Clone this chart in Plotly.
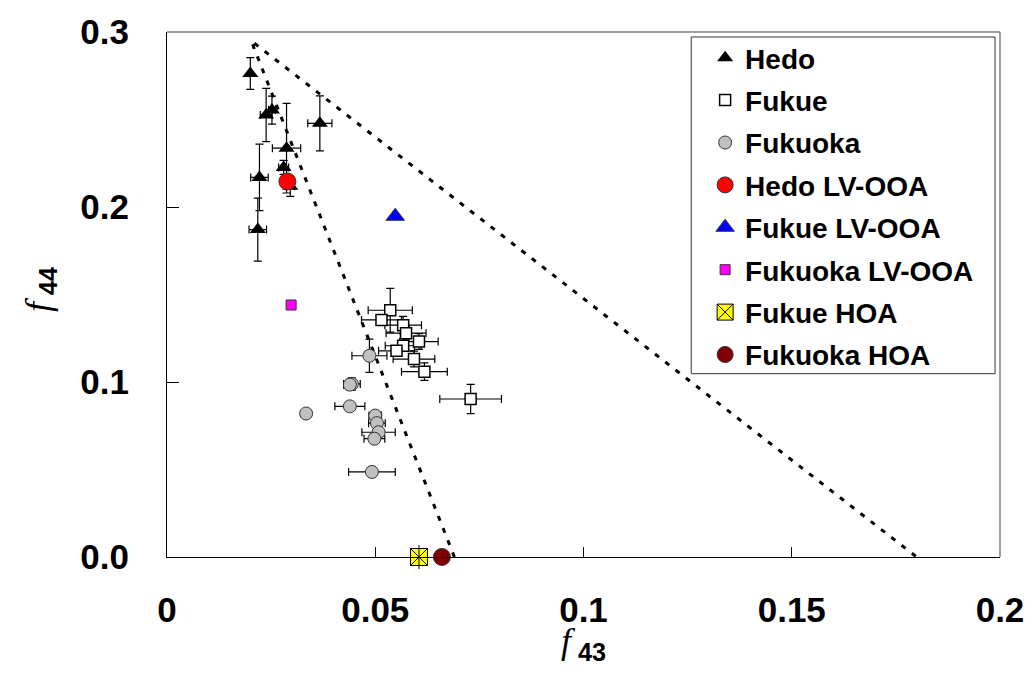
import plotly.graph_objects as go

# ---------------- data ----------------
hedo_x = [0.0200, 0.0238, 0.0252, 0.0367, 0.0287, 0.0280, 0.0296, 0.0222, 0.0218]
hedo_y = [0.2763, 0.2526, 0.2554, 0.2478, 0.2336, 0.2226, 0.2118, 0.2169, 0.1871]
hedo_ex = [0.0000, 0.0014, 0.0008, 0.0029, 0.0034, 0.0012, 0.0010, 0.0021, 0.0021]
hedo_ey = [0.0091, 0.0152, 0.0080, 0.0157, 0.0256, 0.0040, 0.0057, 0.0190, 0.0180]

fukue_x = [0.0536, 0.0515, 0.0567, 0.0574, 0.0605, 0.0567, 0.0551, 0.0593, 0.0618, 0.0729]
fukue_y = [0.1410, 0.1355, 0.1325, 0.1279, 0.1231, 0.1207, 0.1178, 0.1131, 0.1059, 0.0903]
fukue_ex = [0.0053, 0.0048, 0.0044, 0.0048, 0.0046, 0.0043, 0.0043, 0.0050, 0.0055, 0.0074]
fukue_ey = [0.0125, 0.0030, 0.0050, 0.0040, 0.0045, 0.0030, 0.0030, 0.0045, 0.0050, 0.0084]

fukuoka_x = [0.0486, 0.0444, 0.0439, 0.0439, 0.0500, 0.0504, 0.0508, 0.0498, 0.0492, 0.0334]
fukuoka_y = [0.1150, 0.0989, 0.0985, 0.0861, 0.0808, 0.0765, 0.0713, 0.0676, 0.0486, 0.0820]
fukuoka_ex = [0.0042, 0.0020, 0.0015, 0.0036, 0.0015, 0.0020, 0.0040, 0.0025, 0.0056, 0.0000]
fukuoka_ey = [0.0095, 0.0035, 0.0030, 0.0020, 0.0020, 0.0020, 0.0025, 0.0020, 0.0030, 0.0000]

hedo_lvooa = (0.0289, 0.2146)
fukue_lvooa = (0.0548, 0.1947)
fukuoka_lvooa = (0.0298, 0.1440)
fukue_hoa = (0.0605, 0.0)
fukuoka_hoa = (0.0660, 0.0)

tri_x = [0.0690, 0.0202, 0.1800]
tri_y = [0.0, 0.2950, 0.0]

x_ticks = [0, 0.05, 0.1, 0.15, 0.2]
x_ticktext = ["0", "0.05", "0.1", "0.15", "0.2"]
y_ticks = [0.0, 0.1, 0.2, 0.3]
y_ticktext = ["0.0", "0.1", "0.2", "0.3"]

# ---------------- figure ----------------
fig = go.Figure()

fig.add_trace(go.Scatter(x=tri_x, y=tri_y, mode="lines", showlegend=False,
                         line=dict(color="black", width=3, dash="5px,8px"),
                         hoverinfo="skip"))

eb = dict(type="data", color="black", thickness=1.2, width=4)

fig.add_trace(go.Scatter(
    x=hedo_x, y=hedo_y, mode="markers", name="Hedo", legendgroup="a",
    marker=dict(symbol="triangle-up", size=14, color="black", line=dict(color="black", width=0)),
    error_x=dict(array=hedo_ex, **eb), error_y=dict(array=hedo_ey, **eb)))

fig.add_trace(go.Scatter(
    x=fukue_x, y=fukue_y, mode="markers", name="Fukue", legendgroup="b",
    marker=dict(symbol="square", size=11, color="white", line=dict(color="black", width=1.5)),
    error_x=dict(array=fukue_ex, **eb), error_y=dict(array=fukue_ey, **eb)))

fig.add_trace(go.Scatter(
    x=fukuoka_x, y=fukuoka_y, mode="markers", name="Fukuoka", legendgroup="c",
    marker=dict(symbol="circle", size=13, color="#c0c0c0", line=dict(color="#333333", width=1)),
    error_x=dict(array=fukuoka_ex, **eb), error_y=dict(array=fukuoka_ey, **eb)))

fig.add_trace(go.Scatter(
    x=[hedo_lvooa[0]], y=[hedo_lvooa[1]], mode="markers", name="Hedo LV-OOA", legendgroup="d",
    marker=dict(symbol="circle", size=17, color="red", line=dict(color="#333333", width=1))))

fig.add_trace(go.Scatter(
    x=[fukue_lvooa[0]], y=[fukue_lvooa[1]], mode="markers", name="Fukue LV-OOA", legendgroup="e",
    marker=dict(symbol="triangle-up", size=16, color="blue", line=dict(color="#333333", width=1))))

fig.add_trace(go.Scatter(
    x=[fukuoka_lvooa[0]], y=[fukuoka_lvooa[1]], mode="markers", name="Fukuoka LV-OOA", legendgroup="f",
    marker=dict(symbol="square", size=10, color="magenta", line=dict(color="#333333", width=1))))

fig.add_trace(go.Scatter(
    x=[fukue_hoa[0]], y=[fukue_hoa[1]], mode="markers", name="Fukue HOA", legendgroup="g",
    cliponaxis=False,
    marker=dict(symbol="square-x", size=17, color="yellow", line=dict(color="black", width=1))))
fig.add_trace(go.Scatter(
    x=[fukue_hoa[0]], y=[fukue_hoa[1]], mode="markers", showlegend=False, legendgroup="g",
    cliponaxis=False, hoverinfo="skip",
    marker=dict(symbol="line-ns", size=17, color="black", line=dict(color="black", width=1))))

fig.add_trace(go.Scatter(
    x=[fukuoka_hoa[0]], y=[fukuoka_hoa[1]], mode="markers", name="Fukuoka HOA", legendgroup="h",
    cliponaxis=False,
    marker=dict(symbol="circle", size=17, color="#800000", line=dict(color="#333333", width=1))))

tickfont = dict(family="Liberation Sans, Arial", size=35, color="black", weight="bold")

fig.update_xaxes(range=[0, 0.2], tickvals=x_ticks, ticktext=x_ticktext,
                 ticks="inside", ticklen=10, tickcolor="black", tickwidth=1,
                 showline=True, linecolor="black", linewidth=1, mirror=False,
                 showgrid=False, zeroline=False, tickfont=tickfont, ticklabelstandoff=22)
fig.update_yaxes(range=[0, 0.3], tickvals=y_ticks, ticktext=y_ticktext,
                 ticks="inside", ticklen=12, tickcolor="black", tickwidth=1,
                 showline=True, linecolor="black", linewidth=1, mirror=False,
                 showgrid=False, zeroline=False, tickfont=tickfont, ticklabelstandoff=30)

# gray top/right frame
fig.add_shape(type="line", xref="paper", yref="paper", x0=0, x1=1, y0=1, y1=1,
              line=dict(color="#808080", width=1.5), layer="below")
fig.add_shape(type="line", xref="paper", yref="paper", x0=1, x1=1, y0=0, y1=1,
              line=dict(color="#808080", width=1.5), layer="below")

# legend box (white panel with border)
PW, PH = 839, 527
fig.add_shape(type="rect", xref="paper", yref="paper",
              x0=(695 - 167) / PW, x1=(1001 - 167) / PW,
              y0=(557 - 373) / PH, y1=(557 - 35) / PH,
              fillcolor="white", line=dict(color="#333333", width=1), layer="above")

title_x = ("<i>f</i><sub><span style=\"font-family:Liberation Sans;font-weight:bold\"> 43</span></sub>")
title_y = ("<i>f</i><sub><span style=\"font-family:Liberation Sans;font-weight:bold\"> 44</span></sub>")
fig.add_annotation(text=title_x, xref="paper", yref="paper", x=(586 - 167) / PW, y=-(644 - 557) / PH,
                   showarrow=False, xanchor="center", yanchor="middle",
                   font=dict(family="Liberation Serif, Times New Roman", size=36, color="black"))
fig.add_annotation(text=title_y, xref="paper", yref="paper", x=-(167 - 39) / PW, y=(557 - 288) / PH,
                   showarrow=False, xanchor="center", yanchor="middle", textangle=-90,
                   font=dict(family="Liberation Serif, Times New Roman", size=36, color="black"))

fig.update_layout(
    width=1036, height=677,
    margin=dict(l=167, r=30, t=30, b=120),
    plot_bgcolor="white", paper_bgcolor="white",
    legend=dict(x=(709 - 167) / PW, y=(557 - 31) / PH, xanchor="left", yanchor="top",
                bgcolor="rgba(0,0,0,0)", borderwidth=0,
                font=dict(family="Liberation Sans, Arial", size=28, color="black", weight="bold"),
                traceorder="grouped", tracegroupgap=3, itemsizing="trace"),
)

fig.write_html("out.html")
